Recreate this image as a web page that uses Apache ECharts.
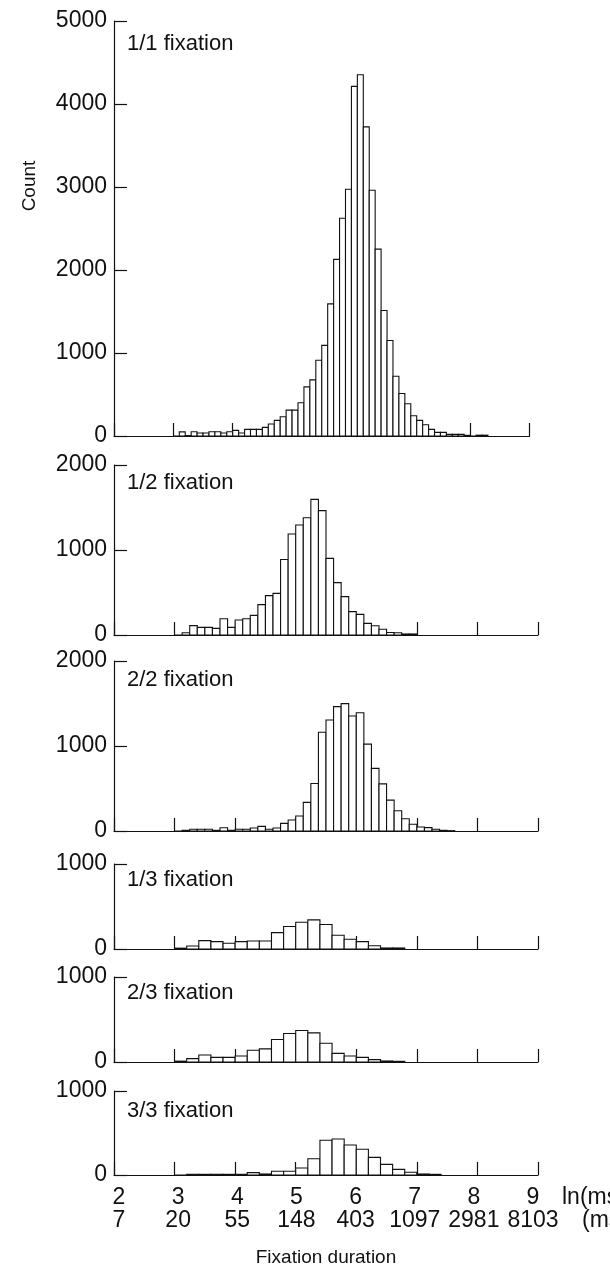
<!DOCTYPE html>
<html>
<head>
<meta charset="utf-8">
<script src="https://cdn.jsdelivr.net/npm/echarts@6/dist/echarts.min.js"></script>
<style>
html,body{margin:0;padding:0;background:#fff;}
#chart{width:610px;height:1273px;}
</style>
</head>
<body>
<div id="chart"></div>
<script>
// ---- DATA ----
const panelTitles = ['1/1 fixation','1/2 fixation','2/2 fixation','1/3 fixation','2/3 fixation','3/3 fixation'];
const yMaxes = [5000, 2000, 2000, 1000, 1000, 1000];
const lnTicks = [2, 3, 4, 5, 6, 7, 8, 9];
const msTicks = ['7', '20', '55', '148', '403', '1097', '2981', '8103'];

// bin edges (ln ms) and counts per panel
const p1Edges = [3.0,3.1,3.2,3.3,3.4,3.5,3.6,3.7,3.8,3.9,4.0,4.1,4.2,4.3,4.4,4.5,4.6,4.7,4.8,4.9,5.0,5.1,5.2,5.3,5.4,5.5,5.6,5.7,5.8,5.9,6.0,6.1,6.2,6.3,6.4,6.5,6.6,6.7,6.8,6.9,7.0,7.1,7.2,7.3,7.4,7.5,7.6,7.7,7.8,7.9,8.0,8.1,8.2,8.3];
const p1Counts = [0,50,5,52,36,36,52,52,36,52,68,36,80,80,80,104,144,188,232,312,312,400,592,676,912,1092,1592,2128,2624,2972,4212,4352,3724,2960,2252,1512,1150,720,512,388,244,188,136,80,44,44,20,20,20,8,0,10,10];

const p2Edges = [3.0,3.125,3.25,3.375,3.5,3.625,3.75,3.875,4.0,4.125,4.25,4.375,4.5,4.625,4.75,4.875,5.0,5.125,5.25,5.375,5.5,5.625,5.75,5.875,6.0,6.125,6.25,6.375,6.5,6.625,6.75,6.875,7.0];
const p2Counts = [0,27,110,90,90,78,192,90,176,192,231,357,463,490,888,1188,1294,1380,1596,1463,902,616,451,275,243,137,108,67,29,27,12,12];

const p3Edges = [3.0,3.125,3.25,3.375,3.5,3.625,3.75,3.875,4.0,4.125,4.25,4.375,4.5,4.625,4.75,4.875,5.0,5.125,5.25,5.375,5.5,5.625,5.75,5.875,6.0,6.125,6.25,6.375,6.5,6.625,6.75,6.875,7.0,7.125,7.25,7.375,7.5,7.625];
const p3Counts = [0,8,20,20,20,8,39,8,20,20,35,55,20,35,90,130,176,337,559,1161,1306,1463,1498,1353,1392,1022,737,555,363,239,145,80,47,40,20,8,4];

const p4Edges = [3.0,3.2,3.4,3.6,3.8,4.0,4.2,4.4,4.6,4.8,5.0,5.2,5.4,5.6,5.8,6.0,6.2,6.4,6.6,6.8];
const p4Counts = [10,35,98,87,67,87,95,95,193,264,315,343,288,161,114,87,39,12,12];

const p5Edges = [3.0,3.2,3.4,3.6,3.8,4.0,4.2,4.4,4.6,4.8,5.0,5.2,5.4,5.6,5.8,6.0,6.2,6.4,6.6,6.8];
const p5Counts = [10,40,83,55,55,71,138,154,264,335,370,343,220,102,71,55,28,12,8];

const p6Edges = [3.0,3.2,3.4,3.6,3.8,4.0,4.2,4.4,4.6,4.8,5.0,5.2,5.4,5.6,5.8,6.0,6.2,6.4,6.6,6.8,7.0,7.2,7.4];
const p6Counts = [0,8,8,8,8,8,28,12,44,44,83,194,413,429,357,306,210,127,67,32,12,8];

const panelEdges = [p1Edges, p2Edges, p3Edges, p4Edges, p5Edges, p6Edges];
const panelCounts = [p1Counts, p2Counts, p3Counts, p4Counts, p5Counts, p6Counts];

// ---- LAYOUT ----
const gridTops = [21, 465, 661, 864, 977, 1091];
const gridHeights = [415, 170, 170, 85, 85, 84];
const gridWidths = [415.5, 424, 424, 424, 424, 424];
const gridLeft = 114;
const titleOffsets = [23, 18, 19, 16, 16, 20];
const FONT = '"Liberation Sans", Arial, sans-serif';
const INK = '#111';

const chart = echarts.init(document.getElementById('chart'), null, {renderer: 'canvas'});

const grids = [], xAxes = [], yAxes = [], series = [], graphics = [];
for (let i = 0; i < 6; i++) {
  grids.push({left: gridLeft, top: gridTops[i], width: gridWidths[i], height: gridHeights[i], containLabel: false});
  xAxes.push({
    type: 'value', gridIndex: i, min: 2, max: 9, interval: 1,
    axisLine: {show: true, lineStyle: {color: INK, width: 1.2}},
    axisTick: {show: true, inside: true, length: 13, lineStyle: {color: INK, width: 1.2}},
    splitLine: {show: false},
    axisLabel: {show: false}
  });
  yAxes.push({
    type: 'value', gridIndex: i, min: 0, max: yMaxes[i], interval: 1000,
    axisLine: {show: true, lineStyle: {color: INK, width: 1.2}},
    axisTick: {show: true, inside: true, length: 13, lineStyle: {color: INK, width: 1.2}},
    splitLine: {show: false},
    axisLabel: {show: true, margin: 7, color: INK, fontFamily: FONT, fontSize: 23,
      formatter: function (v) { return String(v); }}
  });
  const edges = panelEdges[i], counts = panelCounts[i];
  const data = counts.map((c, k) => [edges[k], edges[k + 1], c]);
  series.push({
    type: 'custom', xAxisIndex: i, yAxisIndex: i, data: data,
    encode: {x: [0, 1], y: 2},
    renderItem: function (params, api) {
      const a = api.coord([api.value(0), api.value(2)]);
      const b = api.coord([api.value(1), 0]);
      return {
        type: 'rect',
        shape: {x: a[0], y: a[1], width: b[0] - a[0], height: b[1] - a[1]},
        style: {fill: '#fff', stroke: INK, lineWidth: 1.1}
      };
    },
    silent: true, animation: false
  });
  graphics.push({
    type: 'text', left: 127, top: gridTops[i] + titleOffsets[i] - 11,
    style: {text: panelTitles[i], fill: INK, font: '22px ' + FONT}
  });
}

// label-only axis under the bottom panel (tick labels: ln value and ms)
grids.push({left: 119, top: gridTops[5], width: 414, height: gridHeights[5], containLabel: false});
xAxes.push({
  type: 'value', gridIndex: 6, min: 2, max: 9, interval: 1,
  axisLine: {show: false}, axisTick: {show: false}, splitLine: {show: false},
  axisLabel: {
    show: true, margin: 11, color: INK, fontFamily: FONT, fontSize: 23, lineHeight: 23,
    formatter: function (v) {
      const idx = lnTicks.indexOf(Math.round(v));
      return idx < 0 ? '' : lnTicks[idx] + '\n' + msTicks[idx];
    }
  }
});
yAxes.push({type: 'value', gridIndex: 6, min: 0, max: 1000, show: false});

graphics.push({
  type: 'text', x: 30, y: 186, rotation: Math.PI / 2,
  style: {text: 'Count', fill: INK, font: '19px ' + FONT, align: 'center', verticalAlign: 'middle'}
});
graphics.push({
  type: 'text', x: 562, y: 1198,
  style: {text: 'ln(ms)', fill: INK, font: '23px ' + FONT, align: 'left', verticalAlign: 'middle'}
});
graphics.push({
  type: 'text', x: 582, y: 1221,
  style: {text: '(ms)', fill: INK, font: '23px ' + FONT, align: 'left', verticalAlign: 'middle'}
});
graphics.push({
  type: 'text', x: 326, y: 1258,
  style: {text: 'Fixation duration', fill: INK, font: '19px ' + FONT, align: 'center', verticalAlign: 'middle'}
});

chart.setOption({
  animation: false,
  backgroundColor: '#fff',
  grid: grids, xAxis: xAxes, yAxis: yAxes, series: series, graphic: graphics
});
</script>
</body>
</html>
